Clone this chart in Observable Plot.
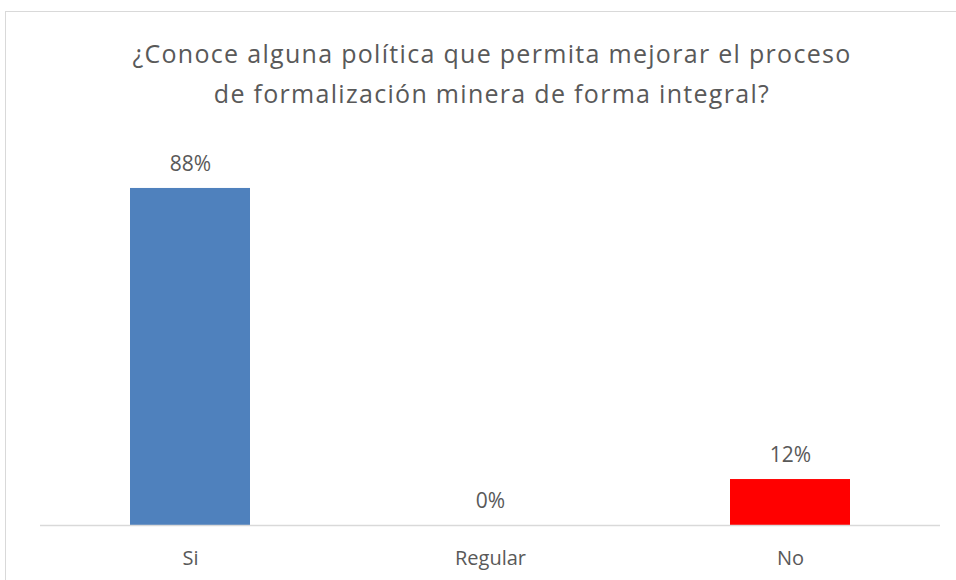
<!DOCTYPE html>
<html>
<head>
<meta charset="utf-8">
<script src="https://cdn.jsdelivr.net/npm/d3@7"></script>
<script src="https://cdn.jsdelivr.net/npm/@observablehq/plot@0.6"></script>
<style>
  html, body { margin: 0; padding: 0; background: #ffffff; width: 956px; height: 580px; overflow: hidden; }
  #frame { position: absolute; left: 5px; top: 11px; width: 1000px; height: 620px; border: 1px solid #d9d9d9; box-sizing: border-box; }
  #title { position: absolute; left: 0; top: 33px; width: 984px; text-align: center; font-family: "Open Sans", sans-serif; font-size: 25px; letter-spacing: 1.3px; line-height: 40px; color: #595959; }
  #chart { position: absolute; left: 0; top: 120px; }
</style>
</head>
<body>
<div id="frame"></div>
<div id="title">¿Conoce alguna política que permita mejorar el proceso<br>de formalización minera de forma integral?</div>
<div id="chart"></div>
<script>
const categories = ["Si", "Regular", "No"];
const values = [0.88, 0.00, 0.12];
const labels = ["88%", "0%", "12%"];
const colors = ["#4F81BD", "#4F81BD", "#FF0000"];

const data = categories.map((c, i) => ({cat: c, value: values[i], label: labels[i], color: colors[i]}));

const chart = Plot.plot({
  width: 956,
  height: 460,
  marginTop: 22,
  marginBottom: 55,
  marginLeft: 40,
  marginRight: 16,
  style: {fontFamily: "Open Sans, sans-serif", fontSize: "20px", color: "#595959", background: "transparent"},
  x: {domain: categories, paddingInner: 0.6, paddingOuter: 0.3, label: null, tickSize: 0, tickPadding: 25},
  y: {domain: [0, 1], axis: null},
  marks: [
    Plot.barY(data, {x: "cat", y: "value", fill: d => d.color}),
    Plot.ruleY([0], {stroke: "#d9d9d9", strokeWidth: 1.5}),
    Plot.text(data, {x: "cat", y: "value", text: "label", dy: -24, fill: "#595959", fontSize: 21})
  ]
});
document.getElementById("chart").appendChild(chart);
</script>
</body>
</html>
